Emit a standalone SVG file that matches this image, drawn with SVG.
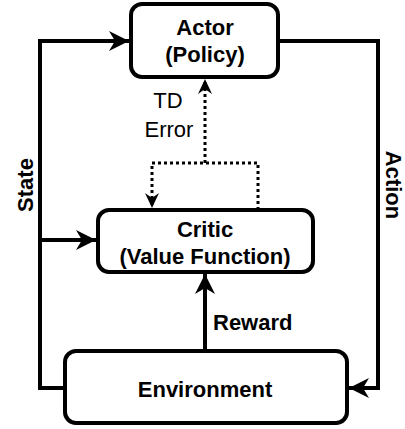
<svg xmlns="http://www.w3.org/2000/svg" width="405" height="429" viewBox="0 0 405 429">
  <style>
    .box { fill: #ffffff; stroke: #000000; stroke-width: 4; }
    .lbl { font-family: "Liberation Sans", Arial, sans-serif; font-size: 22px; fill: #000000; }
    .b { font-weight: bold; }
    .wire { fill: none; stroke: #000000; stroke-width: 4; }
    .dot { fill: none; stroke: #000000; stroke-width: 3; stroke-dasharray: 3 3; }
  </style>
  <defs>
    <marker id="arr" markerUnits="userSpaceOnUse" markerWidth="24" markerHeight="24" viewBox="-22 -12 24 24" refX="0" refY="0" orient="auto">
      <path d="M0,0 L-20,-10 L-14,0 L-20,10 Z" fill="#000000"/>
    </marker>
    <marker id="arrs" markerUnits="userSpaceOnUse" markerWidth="18" markerHeight="18" viewBox="-16 -9 18 18" refX="0" refY="0" orient="auto">
      <path d="M0,0 L-15,-7 L-10,0 L-15,7 Z" fill="#000000"/>
    </marker>
  </defs>
  <rect width="405" height="429" fill="#ffffff"/>

  <!-- connectors -->
  <g id="connectors">
    <path class="wire" d="M65,388 L40,388 L40,41 L129,41" marker-end="url(#arr)"/>
    <path class="wire" d="M40,240 L96,240" marker-end="url(#arr)"/>
    <path class="wire" d="M278,41 L378,41 L378,388 L349,388" marker-end="url(#arr)"/>
    <path class="wire" d="M205,351 L205,274" marker-end="url(#arr)"/>
    <path class="dot" d="M258,210 L258,163 L152,163 L152,208" marker-end="url(#arrs)"/>
    <path class="dot" d="M205,163 L205,79" marker-end="url(#arrs)"/>
    <text class="lbl" x="168" y="108" text-anchor="middle">TD</text>
    <text class="lbl" x="169" y="137" text-anchor="middle">Error</text>
    <text class="lbl b" x="213" y="330">Reward</text>
    <text class="lbl b" transform="translate(33,185) rotate(-90)" text-anchor="middle">State</text>
    <text class="lbl b" transform="translate(386,185) rotate(90)" text-anchor="middle">Action</text>
  </g>

  <!-- actor -->
  <g id="actor">
    <rect class="box" x="131" y="4" width="147" height="73" rx="11"/>
    <text class="lbl b" x="205" y="35" text-anchor="middle">Actor</text>
    <text class="lbl b" x="205" y="62" text-anchor="middle">(Policy)</text>
  </g>

  <!-- critic -->
  <g id="critic">
    <rect class="box" x="98" y="210" width="215" height="62" rx="11"/>
    <text class="lbl b" x="205" y="237" text-anchor="middle">Critic</text>
    <text class="lbl b" x="205" y="264" text-anchor="middle">(Value Function)</text>
  </g>

  <!-- environment -->
  <g id="environment">
    <rect class="box" x="65" y="351" width="282" height="72" rx="11"/>
    <text class="lbl b" x="205" y="397" text-anchor="middle">Environment</text>
  </g>
</svg>
